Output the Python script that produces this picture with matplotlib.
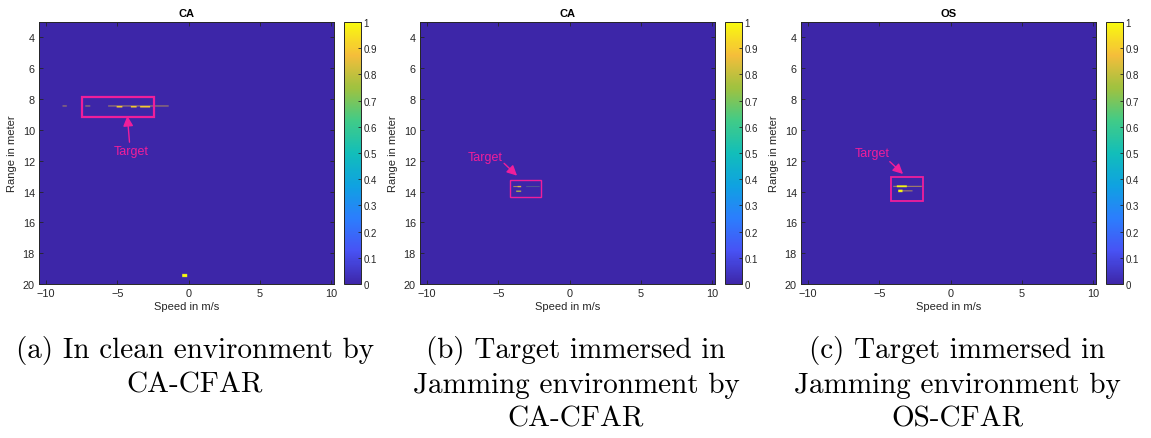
import numpy as np
import matplotlib
matplotlib.use("Agg")
import matplotlib.pyplot as plt
from matplotlib.colors import LinearSegmentedColormap
from matplotlib.patches import Rectangle
from matplotlib.ticker import FuncFormatter

# Axis extents of the range-Doppler maps
speed_lim = (-10.5, 10.2)
range_lim = (3.0, 20.0)
cell_speed = 0.05
cell_range = 0.01

# Detected cells per map: (speed_lo, speed_hi, range_centre, range_height, level)
hits_clean_ca = [
    (-8.87, -8.53, 8.45, 0.03, 0.9),
    (-7.24, -6.91, 8.45, 0.03, 0.9),
    (-5.63, -1.42, 8.45, 0.03, 0.9),
    (-5.04, -4.65, 8.50, 0.10, 0.9),
    (-4.06, -3.66, 8.50, 0.10, 0.9),
    (-3.38, -2.70, 8.50, 0.10, 0.9),
    (-0.44, -0.11, 19.45, 0.20, 1.0),
]
hits_jam_ca = [
    (-3.97, -3.39, 13.68, 0.03, 0.9),
    (-3.65, -3.40, 13.68, 0.08, 0.85),
    (-3.04, -2.10, 13.68, 0.025, 0.7),
    (-3.74, -3.39, 13.98, 0.07, 0.8),
]
hits_jam_os = [
    (-4.04, -2.05, 13.66, 0.03, 0.9),
    (-3.80, -3.10, 13.66, 0.12, 1.0),
    (-3.69, -2.71, 13.96, 0.03, 0.9),
    (-3.69, -3.38, 13.96, 0.15, 1.0),
]

titles = ["CA", "CA", "OS"]
captions = [
    "(a) In clean environment by\nCA-CFAR",
    "(b) Target immersed in\nJamming environment by\nCA-CFAR",
    "(c) Target immersed in\nJamming environment by\nOS-CFAR",
]
# Target box (speed_lo, speed_hi, range_lo, range_hi), label position, arrow tail/tip
boxes = [(-7.45, -2.44, 7.84, 9.16), (-4.18, -1.98, 13.27, 14.37), (-4.16, -1.91, 13.05, 14.63)]
label_xy = [(-4.0, 11.4), (-5.9, 11.75), (-5.5, 11.5)]
arrow_tail = [(-4.15, 10.8), (-4.6, 12.17), (-4.27, 12.06)]
arrow_tip = [(-4.3, 9.1), (-3.69, 12.97), (-3.34, 12.86)]
box_lw = [1.6, 1.0, 1.3]

xticks = [-10, -5, 0, 5, 10]
yticks = [4, 6, 8, 10, 12, 14, 16, 18, 20]
cbar_ticks = [0, 0.1, 0.2, 0.3, 0.4, 0.5, 0.6, 0.7, 0.8, 0.9, 1.0]

# parula-like colormap
parula = LinearSegmentedColormap.from_list("parula", [
    (0.000, (0.243, 0.150, 0.660)),
    (0.125, (0.281, 0.323, 0.958)),
    (0.250, (0.171, 0.492, 0.991)),
    (0.375, (0.059, 0.633, 0.884)),
    (0.500, (0.070, 0.746, 0.726)),
    (0.625, (0.259, 0.796, 0.527)),
    (0.750, (0.625, 0.760, 0.250)),
    (0.875, (0.960, 0.743, 0.230)),
    (1.000, (0.976, 0.983, 0.054)),
])

pink = "#f01e9b"
ink = "#262626"
plt.rcParams["font.family"] = ["Liberation Sans", "DejaVu Sans"]


def build_map(hits):
    nx = int(round((speed_lim[1] - speed_lim[0]) / cell_speed))
    ny = int(round((range_lim[1] - range_lim[0]) / cell_range))
    grid = np.zeros((ny, nx))
    xs = speed_lim[0] + (np.arange(nx) + 0.5) * cell_speed
    ys = range_lim[0] + (np.arange(ny) + 0.5) * cell_range
    for lo, hi, rc, rh, lvl in hits:
        cols = (xs >= lo) & (xs <= hi)
        rows = np.abs(ys - rc) <= rh / 2 + 1e-9
        grid[np.ix_(rows, cols)] = np.maximum(grid[np.ix_(rows, cols)], lvl)
    return grid


fig = plt.figure(figsize=(11.51, 4.39), dpi=100)
W, H = 1151.0, 439.0
panel_left = [39, 420, 801]
all_hits = [hits_clean_ca, hits_jam_ca, hits_jam_os]
cap_x = [195, 576, 957]

for i in range(3):
    left = panel_left[i]
    ax = fig.add_axes([left / W, (H - 285) / H, 295 / W, 262 / H])
    im = ax.imshow(build_map(all_hits[i]), cmap=parula, vmin=0, vmax=1,
                   extent=(speed_lim[0], speed_lim[1], range_lim[1], range_lim[0]),
                   aspect="auto", interpolation="hanning", interpolation_stage="rgba")
    ax.set_xlim(speed_lim)
    ax.set_ylim(range_lim[1], range_lim[0])
    ax.set_xticks(xticks)
    ax.set_yticks(yticks)
    ax.tick_params(direction="in", length=3, width=0.6, color=ink, labelcolor=ink,
                   labelsize=7.8, top=True, right=True, pad=3)
    for sp in ax.spines.values():
        sp.set_color(ink)
        sp.set_linewidth(0.7)
    ax.set_title(titles[i], fontsize=8, fontweight="bold", color="black", pad=4)
    ax.set_xlabel("Speed in m/s", fontsize=8, color=ink, labelpad=2)
    ax.set_ylabel("Range in meter", fontsize=8, color=ink, labelpad=4)

    # target marking
    x0, x1, y0, y1 = boxes[i]
    ax.add_patch(Rectangle((x0, y0), x1 - x0, y1 - y0, fill=False,
                           edgecolor=pink, linewidth=box_lw[i]))
    ax.annotate("", xy=arrow_tip[i], xytext=arrow_tail[i],
                arrowprops=dict(arrowstyle="-|>,head_length=0.6,head_width=0.3",
                                color=pink, lw=1.0, shrinkA=0, shrinkB=0))
    ax.text(label_xy[i][0], label_xy[i][1], "Target", color=pink, fontsize=9,
            ha="center", va="center")

    # colorbar
    cax = fig.add_axes([(left + 305) / W, (H - 285) / H, 17 / W, 262 / H])
    cb = fig.colorbar(im, cax=cax, ticks=cbar_ticks)
    cb.ax.yaxis.set_major_formatter(FuncFormatter(lambda v, p: "%g" % v))
    cb.ax.tick_params(direction="in", length=2.5, width=0.6, color=ink,
                      labelcolor=ink, labelsize=7, pad=2)
    cb.outline.set_edgecolor(ink)
    cb.outline.set_linewidth(0.7)

    # sub-figure caption
    fig.text(cap_x[i] / W, 1 - 336 / H, captions[i], family=["cmr10", "DejaVu Serif"],
             fontsize=21, ha="center", va="top", multialignment="center",
             linespacing=1.37)

fig.savefig("out.png", dpi=100)
